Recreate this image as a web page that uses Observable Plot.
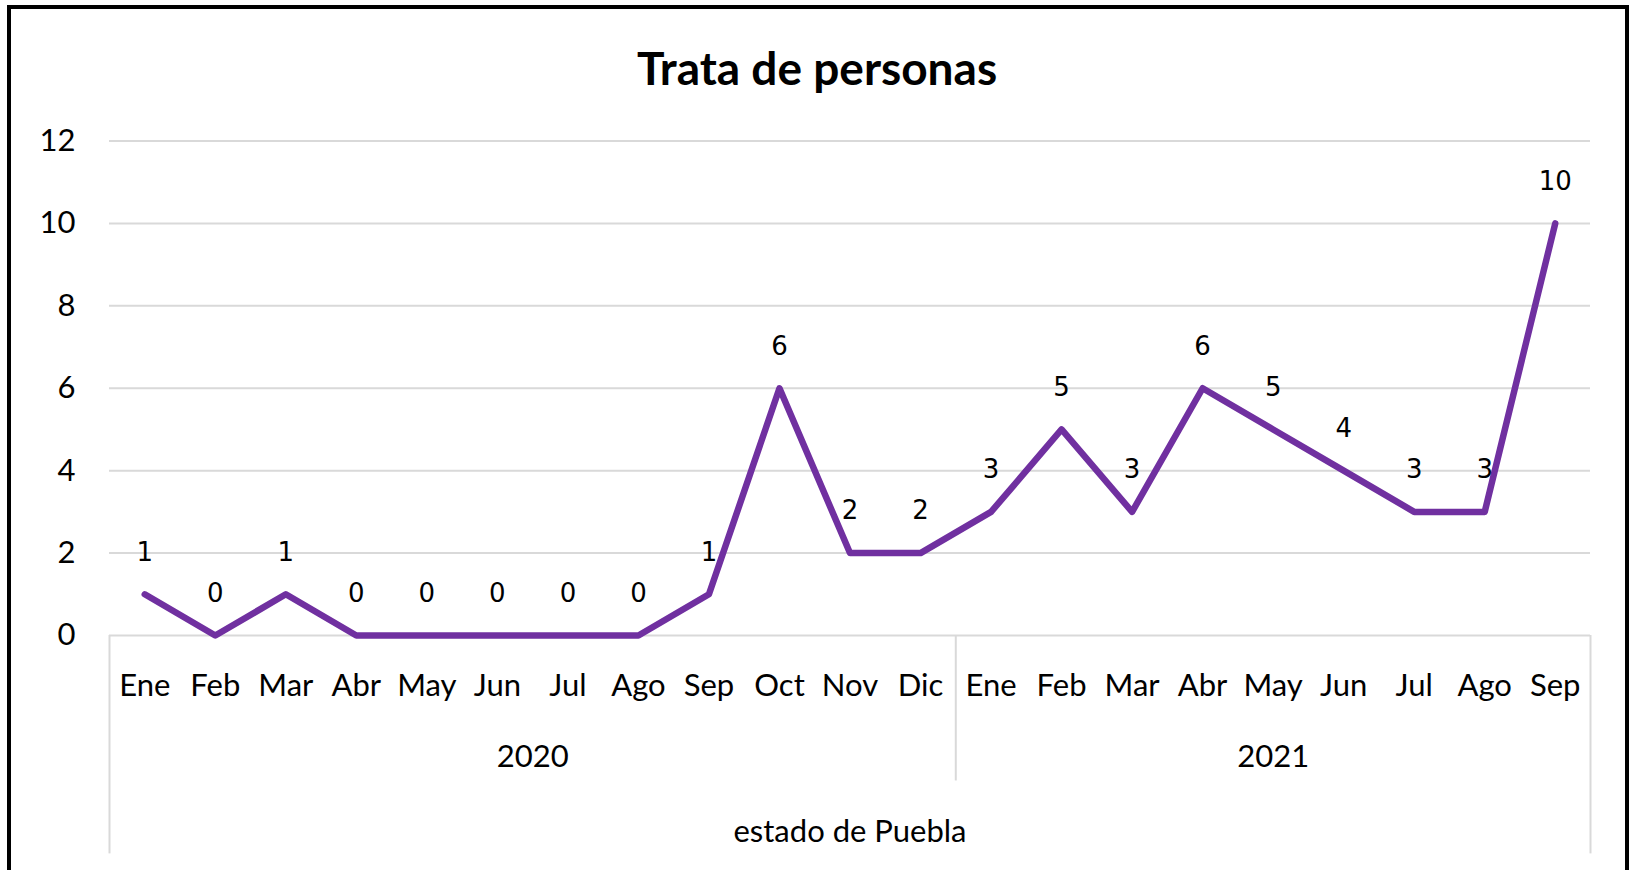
<!DOCTYPE html>
<html>
<head>
<meta charset="utf-8">
<script src="https://cdn.jsdelivr.net/npm/d3@7"></script>
<script src="https://cdn.jsdelivr.net/npm/@observablehq/plot@0.6"></script>
<style>
  html, body { margin: 0; padding: 0; background: #fff; }
  #wrap { position: relative; width: 1632px; height: 870px; overflow: hidden; }
  #title { position: absolute; left: 0; top: 0; width: 1634px; height: 136px; line-height: 136px;
           text-align: center; font-family: Lato, sans-serif; font-weight: 700; font-size: 46px; color: #000; }
  #chart { position: absolute; left: 0; top: 100px; }
  #frame { position: absolute; left: 7px; top: 5px; width: 1622px; height: 920px; border: 4px solid #000;
           box-sizing: border-box; pointer-events: none; z-index: 3; }
</style>
</head>
<body>
<div id="wrap">
  <div id="title">Trata de personas</div>
  <div id="chart"></div>
  <div id="frame"></div>
</div>
<script>
// ---- data ----
const months2020 = ["Ene","Feb","Mar","Abr","May","Jun","Jul","Ago","Sep","Oct","Nov","Dic"];
const months2021 = ["Ene","Feb","Mar","Abr","May","Jun","Jul","Ago","Sep"];
const values2020 = [1, 0, 1, 0, 0, 0, 0, 0, 1, 6, 2, 2];
const values2021 = [3, 5, 3, 6, 5, 4, 3, 3, 10];
const years = ["2020", "2021"];
const yTicks = [0, 2, 4, 6, 8, 10, 12];
const groupLabel = "estado de Puebla";

// ---- derived tables ----
const labels = [...months2020, ...months2021];
const values = [...values2020, ...values2021];
const n = labels.length;
const data = values.map((v, i) => ({i, v, label: labels[i]}));
const groupMonths = [months2020, months2021];
let start = 0;
const yearGroups = years.map((y, k) => {
  const s = start, e = start + groupMonths[k].length - 1;
  start = e + 1;
  return {year: y, start: s, end: e, mid: (s + e) / 2};
});
// separators: outer edges extend deeper (to category group level), inner only to year level
const deepDepth = -5.3, yearDepth = -3.53;
const separators = [
  {x: -0.5, depth: deepDepth},
  ...yearGroups.slice(0, -1).map(g => ({x: g.end + 0.5, depth: yearDepth})),
  {x: n - 0.5, depth: deepDepth}
];

const chart = Plot.plot({
  width: 1632,
  height: 770,
  marginLeft: 109,
  marginRight: 42,
  marginTop: 40.5,
  marginBottom: 235,
  style: {fontFamily: "Lato, sans-serif", fontSize: "31px", color: "#000", background: "transparent", overflow: "visible"},
  x: {domain: [-0.5, n - 0.5], axis: null},
  y: {domain: [0, 12], axis: null},
  marks: [
    Plot.gridY(yTicks, {stroke: "#d9d9d9", strokeOpacity: 1, strokeWidth: 2}),
    Plot.axisY(yTicks, {tickSize: 0, tickPadding: 34, fontSize: 31, label: null}),
    Plot.axisX(d3.range(n), {tickSize: 0, tickPadding: 38, fontSize: 31, label: null, tickFormat: i => labels[i]}),
    Plot.ruleX(separators, {x: "x", y1: 0, y2: "depth", stroke: "#d9d9d9", strokeWidth: 2}),
    Plot.line(data, {x: "i", y: "v", stroke: "#7030A0", strokeWidth: 6.5}),
    Plot.text(data, {x: "i", y: "v", text: d => String(d.v), dy: -42, fontFamily: "DejaVu Sans", fontSize: 26, fill: "#000"}),
    Plot.text(yearGroups, {x: "mid", text: "year", frameAnchor: "bottom", dy: 131.5, fontSize: 31, fill: "#000"}),
    Plot.text([groupLabel], {text: d => d, frameAnchor: "bottom", dy: 206.5, fontSize: 31, fill: "#000"})
  ]
});
document.getElementById("chart").appendChild(chart);
</script>
</body>
</html>
